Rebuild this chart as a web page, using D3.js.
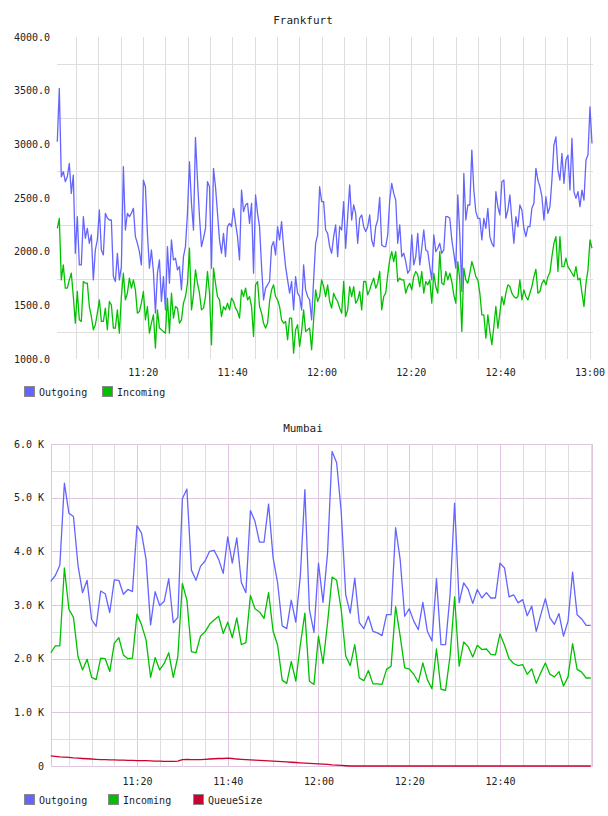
<!DOCTYPE html>
<html>
<head>
<meta charset="UTF-8">
<title>Frankfurt / Mumbai</title>
<style>
  body { margin: 0; background: #fff; }
  text { font-family: "DejaVu Sans Mono", monospace; fill: #222; }
</style>
</head>
<body>
<script src="https://cdn.jsdelivr.net/npm/d3@7"></script>
<script>
// ---- Frankfurt: samples every ~27 s starting 11:00:51
var frankfurtStart = "11:00:51";
var frankfurtStepSec = 26.9;
var frankfurtOutgoing = [
  3024,3520,2698,2745,2652,2698,2822,2543,2714,1985,2326,1877,1877,2326,2125,2218,2078,2156,1737,2016,
  2109,2388,2016,1970,2357,2311,2295,2295,1768,1722,1985,1737,1861,2791,2202,2357,2326,2357,2404,2140,
  2078,2001,1877,2667,2605,2171,1846,2016,1815,1427,1799,1923,1536,1768,1458,2047,1706,2109,1923,1939,
  1830,1861,1644,1954,2047,2357,2838,
  2450,2202,3064,2667,2326,2047,2125,2218,2652,2605,1846,2776,2605,2357,2109,1985,2171,1954,2233,2264,
  2233,2404,2264,2140,1923,2574,2373,2435,2450,2264,2450,1799,2528,2357,2233,1861,1551,1660,1691,1722,
  2047,2094,1970,2233,2109,2280,2047,1861,1737,1613,1722,1458,1768,1613,1582,1458,1877,1644,1582,1551,
  1365,1737,2078,2156,2605,2466,
  2466,2202,2171,2047,1985,2140,2249,1954,2233,2202,2466,2032,2326,2621,2295,2435,2357,2078,2311,2342,
  2233,2187,2233,2342,2109,2047,2233,2295,2506,2063,2047,2047,2156,2481,2636,2543,2481,2078,2249,1954,
  1985,1908,1799,1830,2156,1877,1954,2171,1877,2032,2202,2016,2001,1861,1737,2156,2001,2032,2078,1985,
  2016,2326,2326,2311,2109,1985,1846,
  2528,2156,1629,2729,2295,2435,2435,2946,2574,2373,2311,2311,2109,2311,2218,2404,2140,2078,2047,2559,
  2419,2342,2652,2667,2311,2388,2528,2295,2078,2326,2233,2435,2388,2218,2140,2233,2233,2404,2450,2776,
  2667,2605,2512,2295,2512,2357,2419,2667,2993,3070,2760,2667,2915,2636,2853,2900,2574,3055,2559,2497,
  2559,2419,2574,2481,2853,2900,3349,3008
];
var frankfurtIncoming = [
  2218,2311,1737,1877,1660,1660,1737,1799,1582,1334,1629,1365,1350,1722,1706,1706,1489,1396,1272,1319,
  1427,1551,1350,1350,1474,1272,1536,1505,1288,1288,1458,1241,1582,1799,1551,1613,1753,1660,1737,1644,
  1427,1443,1520,1629,1365,1489,1241,1334,1412,1102,1458,1288,1272,1257,1241,1567,1241,1613,1381,1489,
  1474,1334,1365,1520,1582,1706,2032,
  1458,1598,1830,1706,1613,1458,1474,1582,1815,1613,1133,1846,1706,1582,1551,1396,1489,1458,1520,1458,
  1567,1536,1474,1443,1381,1644,1582,1660,1551,1582,1489,1210,1691,1722,1489,1427,1334,1288,1334,1536,
  1644,1691,1582,1551,1489,1365,1334,1350,1179,1381,1381,1055,1272,1319,1117,1257,1458,1257,1272,1288,
  1086,1365,1644,1536,1582,1737,
  1675,1582,1691,1536,1474,1613,1567,1536,1474,1427,1722,1396,1458,1675,1582,1675,1520,1551,1629,1458,
  1722,1722,1598,1644,1706,1753,1660,1706,1815,1458,1582,1613,1784,1923,2001,1908,2001,1722,1753,1737,
  1737,1613,1675,1706,1644,1768,1815,1784,1675,1815,1613,1722,1691,1737,1520,1799,1675,1613,2001,1706,
  1691,1815,1737,1799,1722,1598,1520,
  1908,1737,1257,1846,1737,1706,1799,1908,1846,1768,1737,1613,1412,1412,1195,1412,1257,1133,1303,1489,
  1288,1427,1582,1505,1613,1691,1675,1613,1582,1567,1582,1737,1551,1644,1582,1551,1613,1675,1768,1836,
  1613,1629,1706,1737,1691,1768,1805,1954,2078,2140,1815,2140,1861,1861,1939,1861,1830,1799,1768,1861,
  1737,1753,1613,1489,1706,1830,2109,2032
];
var frankfurtYTicks = [1000, 1500, 2000, 2500, 3000, 3500, 4000];
var frankfurtXLabels = ["11:20", "11:40", "12:00", "12:20", "12:40", "13:00"];

// ---- Mumbai: one sample per minute from 11:01
var mumbaiStart = "11:01:00";
var mumbaiStepSec = 60;
var mumbaiOutgoing = [
  3440,3550,3740,5270,4710,4650,3740,3230,3460,2730,2600,3260,3210,2860,3470,3460,3200,3290,3250,4480,
  4340,3850,2630,3250,2990,3070,3490,2670,2770,4980,5160,3650,3460,
  3720,3820,4000,4020,3850,3590,4270,3780,4250,3420,3230,4760,4560,4170,4170,4880,3880,3410,2610,2560,
  3090,2680,3540,5150,2920,2490,3780,3050,3970,5860,5650,4750,3190,2850,3500,2670,2560,2790,2510,2480,
  2430,2820,2820,4440,3850,2790,
  2930,2700,2540,3050,2510,2330,3490,2260,2260,3190,4900,3040,3410,3290,3030,3290,3130,3230,3130,3130,
  3780,3690,3150,3190,3040,3100,2800,2980,2510,2820,3120,2760,2640,2840,2420,2700,3610,2820,2740,2620,
  2620
];
var mumbaiIncoming = [
  2110,2240,2240,3690,2920,2770,2040,1790,1990,1650,1610,2010,2000,1760,2290,2390,2070,2000,2010,2830,
  2630,2350,1650,2020,1790,1910,2110,1650,2040,3400,3090,2130,2110,
  2420,2500,2640,2720,2790,2470,2680,2390,2760,2260,2300,3180,2930,2870,2750,3230,2510,2250,1600,1540,
  1950,1580,2260,2850,1580,1520,2420,1910,2670,3520,3460,2920,2050,1870,2260,1640,1590,1780,1530,1530,
  1520,1800,1860,2970,2420,1830,
  1810,1710,1560,1920,1610,1440,2180,1430,1410,2050,3150,1860,2310,2220,2030,2250,2170,2180,2080,2070,
  2460,2250,2000,1910,1870,1890,1710,1810,1540,1740,1920,1710,1660,1760,1490,1660,2280,1800,1750,1640,
  1640
];
var mumbaiQueueSize = [
  190,180,170,165,160,150,145,140,135,130,125,120,120,115,115,110,110,105,105,100,
  100,100,95,90,90,85,85,85,90,120,125,120,120,120,125,130,135,140,140,145,
  140,130,125,120,115,110,105,100,95,90,85,80,75,70,65,60,55,50,45,40,
  35,30,20,15,10,5,0,0,0,0,0,0,0,0,0,0,0,0,0,0,
  0,0,0,0,0,0,0,0,0,0,0,0,0,0,0,0,0,0,0,0,
  0,0,0,0,0,0,0,0,0,0,0,0,0,0,0,0,0,0,0,0
];
var mumbaiYTicks = [0, 1000, 2000, 3000, 4000, 5000, 6000];
var mumbaiXLabels = ["11:20", "11:40", "12:00", "12:20", "12:40"];

var colors = { Outgoing: "#6464ff", Incoming: "#00c000", QueueSize: "#cc0033" };

var parseT = d3.timeParse("%H:%M:%S"),
    parseHM = d3.timeParse("%H:%M");

function series(name, values, start, stepSec) {
  var t0 = parseT(start).getTime();
  return {
    name: name,
    points: values.map(function(v, i) { return { t: new Date(t0 + i * stepSec * 1000), v: v }; })
  };
}

var svg = d3.select("body").append("svg")
    .attr("width", 608)
    .attr("height", 816);

function drawChart(c) {
  var x = d3.scaleTime()
      .domain([parseT(c.xFrom), parseT(c.xTo)])
      .range([c.left, c.right]);
  var y = d3.scaleLinear()
      .domain(c.yDomain)
      .range([c.bottom, c.top]);

  var g = svg.append("g");

  g.append("text")
      .attr("x", c.titleX).attr("y", c.titleY)
      .attr("dy", "0.35em")
      .attr("text-anchor", "middle")
      .style("font-size", "11px")
      .text(c.title);

  // vertical grid every 5 minutes, labelled ones may get the major colour
  var labelTimes = c.xLabels.map(function(s) { return +parseHM(s); });
  var gridTimes = d3.timeMinute.every(5).range(x.domain()[0], x.domain()[1]);
  g.append("g").selectAll("line")
      .data(gridTimes)
    .enter().append("line")
      .attr("x1", function(d) { return Math.round(x(d)) + 0.5; })
      .attr("x2", function(d) { return Math.round(x(d)) + 0.5; })
      .attr("y1", c.top).attr("y2", c.bottom)
      .attr("stroke", function(d) {
        return (c.majorColor && labelTimes.indexOf(+d) >= 0) ? c.majorColor : "#dedede";
      });

  // horizontal grid
  g.append("g").selectAll("line")
      .data(c.hGrid)
    .enter().append("line")
      .attr("x1", c.left).attr("x2", c.right)
      .attr("y1", function(d) { return Math.round(y(d)) + 0.5; })
      .attr("y2", function(d) { return Math.round(y(d)) + 0.5; })
      .attr("stroke", "#dedede");

  if (c.majorColor) {
    g.append("g").selectAll("line")
        .data(c.hMajor)
      .enter().append("line")
        .attr("x1", c.left).attr("x2", c.right)
        .attr("y1", function(d) { return Math.round(y(d)) + 0.5; })
        .attr("y2", function(d) { return Math.round(y(d)) + 0.5; })
        .attr("stroke", c.majorColor);
    g.append("rect")
        .attr("x", c.left + 0.5).attr("y", c.top + 0.5)
        .attr("width", c.right - c.left - 1).attr("height", c.bottom - c.top)
        .attr("fill", "none")
        .attr("stroke", c.majorColor);
  }

  // axes (labels only)
  var yAxis = d3.axisLeft(y)
      .tickValues(c.yTicks)
      .tickFormat(c.yFormat)
      .tickSize(0)
      .tickPadding(c.left - c.yLabelRight);
  g.append("g")
      .attr("transform", "translate(" + c.left + ",0)")
      .call(yAxis)
      .call(function(s) { s.select(".domain").remove(); })
      .selectAll("text")
      .style("font-family", "DejaVu Sans Mono, monospace")
      .style("font-size", "10px")
      .attr("fill", "#222");

  var xAxis = d3.axisBottom(x)
      .tickValues(c.xLabels.map(function(s) { return parseHM(s); }))
      .tickFormat(d3.timeFormat("%H:%M"))
      .tickSize(0)
      .tickPadding(c.xLabelPad);
  g.append("g")
      .attr("transform", "translate(0," + c.bottom + ")")
      .call(xAxis)
      .call(function(s) { s.select(".domain").remove(); })
      .selectAll("text")
      .style("font-family", "DejaVu Sans Mono, monospace")
      .style("font-size", "10px")
      .attr("fill", "#222");

  var line = d3.line()
      .x(function(d) { return x(d.t); })
      .y(function(d) { return y(d.v); });

  g.append("g").selectAll("path")
      .data(c.series)
    .enter().append("path")
      .attr("d", function(d) { return line(d.points); })
      .attr("fill", "none")
      .attr("stroke", function(d) { return colors[d.name]; })
      .attr("stroke-width", 1.3)
      .attr("stroke-linejoin", "round");

  // legend
  var leg = g.append("g").selectAll("g")
      .data(c.series)
    .enter().append("g")
      .attr("transform", function(d, i) { return "translate(" + c.legendX[i] + "," + c.legendY + ")"; });
  leg.append("rect")
      .attr("x", 0.5).attr("y", -5.5)
      .attr("width", 10).attr("height", 10)
      .attr("fill", function(d) { return colors[d.name]; })
      .attr("stroke", "#888");
  leg.append("text")
      .attr("x", 15).attr("y", 0)
      .attr("dy", "0.35em")
      .style("font-size", "10px")
      .text(function(d) { return d.name; });
}

drawChart({
  title: "Frankfurt", titleX: 303, titleY: 20,
  left: 57, right: 593, top: 37, bottom: 359,
  xFrom: "11:00:47", xTo: "13:00:47",
  yDomain: [1000, 4000],
  yTicks: frankfurtYTicks,
  yFormat: d3.format(".1f"),
  yLabelRight: 50,
  xLabels: frankfurtXLabels, xLabelPad: 10,
  hGrid: d3.range(1250, 4000, 500),
  hMajor: [],
  majorColor: null,
  legendX: [24, 102], legendY: 392,
  series: [
    series("Outgoing", frankfurtOutgoing, frankfurtStart, frankfurtStepSec),
    series("Incoming", frankfurtIncoming, frankfurtStart, frankfurtStepSec)
  ]
});

drawChart({
  title: "Mumbai", titleX: 303, titleY: 428,
  left: 51, right: 593, top: 444, bottom: 766,
  xFrom: "11:01:03", xTo: "13:00:30",
  yDomain: [0, 6000],
  yTicks: mumbaiYTicks,
  yFormat: function(d) { return d === 0 ? "0" : d3.format(".1f")(d / 1000) + " K"; },
  yLabelRight: 44,
  xLabels: mumbaiXLabels, xLabelPad: 12,
  hGrid: d3.range(500, 6000, 1000),
  hMajor: d3.range(1000, 6000, 1000),
  majorColor: "#dfc5df",
  legendX: [24, 108, 193], legendY: 800,
  series: [
    series("Outgoing", mumbaiOutgoing, mumbaiStart, mumbaiStepSec),
    series("Incoming", mumbaiIncoming, mumbaiStart, mumbaiStepSec),
    series("QueueSize", mumbaiQueueSize, mumbaiStart, mumbaiStepSec)
  ]
});
</script>
</body>
</html>
